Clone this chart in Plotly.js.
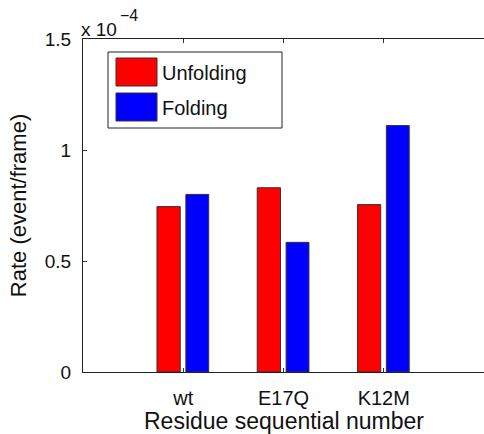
<!DOCTYPE html>
<html>
<head>
<meta charset="utf-8">
<script src="https://cdn.plot.ly/plotly-3.0.1.min.js"></script>
<style>html,body{margin:0;padding:0;background:#fff;}#chart{width:484px;height:434px;}</style>
</head>
<body>
<div id="chart"></div>
<script>
// ---- data ----
var categories = ["wt", "E17Q", "K12M"];
var categoryPositions = [1, 2, 3];
var unfoldingName = "Unfolding";
var foldingName = "Folding";
var unfoldingRates = [0.745, 0.83, 0.754];   // x 10^-4 event/frame
var foldingRates = [0.80, 0.584, 1.11];      // x 10^-4 event/frame
var yTickValues = [0, 0.5, 1, 1.5];
var yTickLabels = ["0", "0.5", "1", "1.5"];
var xTitle = "Residue sequential number";
var yTitle = "Rate (event/frame)";
var scaleBase = "x 10";
var scaleExponent = "\u22124";

// ---- layout helpers ----
var W = 484, H = 434;
var M = {l: 83, r: 0, t: 39, b: 62};
var plotW = W - M.l - M.r, plotH = H - M.t - M.b;
function px(x) { return (x - M.l) / plotW; }
function py(y) { return (H - M.b - y) / plotH; }
var FONT = "Liberation Sans, Arial, Helvetica, sans-serif";
var INK = "#111";

var traces = [
  {
    type: "bar", name: unfoldingName, x: categoryPositions, y: unfoldingRates,
    offset: -0.262, width: 0.232,
    marker: {color: "#ff0000", line: {color: "#333333", width: 1}},
    showlegend: false, hoverinfo: "y"
  },
  {
    type: "bar", name: foldingName, x: categoryPositions, y: foldingRates,
    offset: 0.026, width: 0.228,
    marker: {color: "#0000ff", line: {color: "#333333", width: 1}},
    showlegend: false, hoverinfo: "y"
  }
];

var legendItems = [
  {name: unfoldingName, color: "#ff0000", top: 58},
  {name: foldingName, color: "#0000ff", top: 93}
];

var shapes = [{
  type: "rect", xref: "paper", yref: "paper",
  x0: px(108), x1: px(282), y0: py(128), y1: py(52),
  line: {color: "#222", width: 1}, fillcolor: "rgba(255,255,255,1)", layer: "above"
}];
var annotations = [];
legendItems.forEach(function (it) {
  shapes.push({
    type: "rect", xref: "paper", yref: "paper",
    x0: px(116), x1: px(157), y0: py(it.top + 28), y1: py(it.top),
    line: {color: "#333", width: 1}, fillcolor: it.color, layer: "above"
  });
  annotations.push({
    xref: "paper", yref: "paper", x: px(160), y: py(it.top + 15),
    xanchor: "left", yanchor: "middle", showarrow: false,
    text: it.name, font: {family: FONT, size: 20, color: INK}
  });
});
annotations.push({
  xref: "paper", yref: "paper", x: px(79), y: py(29),
  xanchor: "left", yanchor: "middle", showarrow: false,
  text: scaleBase, font: {family: FONT, size: 19, color: INK}
});
annotations.push({
  xref: "paper", yref: "paper", x: px(118), y: py(15),
  xanchor: "left", yanchor: "middle", showarrow: false,
  text: scaleExponent, font: {family: FONT, size: 16, color: INK}
});
// x-axis title placed as annotation for exact vertical position
annotations.push({
  xref: "paper", yref: "paper", x: px(284), y: py(421),
  xanchor: "center", yanchor: "middle", showarrow: false,
  text: xTitle, font: {family: FONT, size: 23, color: INK}
});

var layout = {
  width: W, height: H,
  margin: M,
  paper_bgcolor: "#fff", plot_bgcolor: "#fff",
  font: {family: FONT, size: 18, color: INK},
  showlegend: false,
  xaxis: {
    range: [0, 4],
    tickvals: categoryPositions, ticktext: categories,
    ticks: "inside", ticklen: 4, tickcolor: "#333",
    showline: true, linecolor: "#222", linewidth: 1, mirror: "ticks",
    showgrid: false, zeroline: false,
    tickfont: {family: FONT, size: 20, color: INK},
    ticklabelstandoff: 8
  },
  yaxis: {
    range: [0, 1.5],
    tickvals: yTickValues, ticktext: yTickLabels,
    ticks: "inside", ticklen: 4, tickcolor: "#333",
    showline: true, linecolor: "#222", linewidth: 1,
    showgrid: false, zeroline: false,
    tickfont: {family: FONT, size: 19, color: INK},
    ticklabelstandoff: 7,
    title: {text: yTitle, font: {family: FONT, size: 22, color: INK}, standoff: 12}
  },
  shapes: shapes,
  annotations: annotations
};

Plotly.newPlot("chart", traces, layout, {displayModeBar: false, staticPlot: true});
</script>
</body>
</html>
